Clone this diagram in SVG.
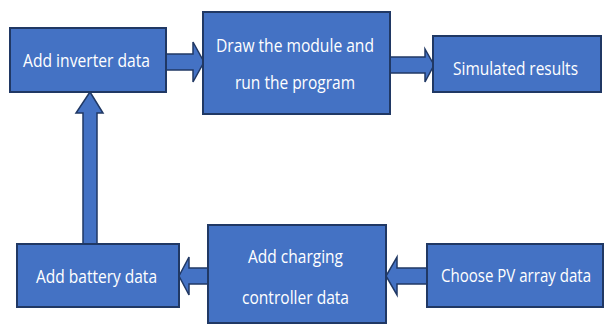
<svg xmlns="http://www.w3.org/2000/svg" width="605" height="325" viewBox="0 0 605 325">
<style>
.box{fill:#4472C4;stroke:#203864;stroke-width:2}
.arr{fill:#4472C4;stroke:#203864;stroke-width:1.5;stroke-linejoin:miter}
.t{fill:#ffffff;font-family:"Open Sans","Liberation Sans",Arial,sans-serif;font-size:18px;text-anchor:middle}
</style>
<rect width="605" height="325" fill="#ffffff"/>
<g id="connectors">
<polygon class="arr" points="166,54 193,54 193,42 204,62 193,82 193,70 166,70"/>
<polygon class="arr" points="390,57 425,57 425,49 434,65 425,82 425,73 390,73"/>
<polygon class="arr" points="83,244 83,113 76,113 90,92 103,113 97,113 97,244"/>
<polygon class="arr" points="208,268 189,268 189,257 179,276 189,295 189,284 208,284"/>
<polygon class="arr" points="427,268 397,268 397,257 386,276 397,295 397,284 427,284"/>
</g>
<g id="inverter">
<rect class="box" x="10" y="28" width="156" height="64"/>
<text class="t" x="86.5" y="67" textLength="127" lengthAdjust="spacingAndGlyphs">Add inverter data</text>
</g>
<g id="module">
<rect class="box" x="203" y="12" width="187" height="102"/>
<text class="t" x="295" y="52" textLength="158" lengthAdjust="spacingAndGlyphs">Draw the module and</text>
<text class="t" x="295" y="89" textLength="120" lengthAdjust="spacingAndGlyphs">run the program</text>
</g>
<g id="results">
<rect class="box" x="433" y="36" width="168" height="56"/>
<text class="t" x="515.5" y="75" textLength="125" lengthAdjust="spacingAndGlyphs">Simulated results</text>
</g>
<g id="battery">
<rect class="box" x="17" y="244" width="162" height="63"/>
<text class="t" x="96.5" y="283" textLength="121" lengthAdjust="spacingAndGlyphs">Add battery data</text>
</g>
<g id="controller">
<rect class="box" x="208" y="225" width="178" height="98"/>
<text class="t" x="295.5" y="263" textLength="95" lengthAdjust="spacingAndGlyphs">Add charging</text>
<text class="t" x="295.5" y="304" textLength="107" lengthAdjust="spacingAndGlyphs">controller data</text>
</g>
<g id="pv">
<rect class="box" x="427" y="244" width="176" height="63"/>
<text class="t" x="516" y="282" textLength="150" lengthAdjust="spacingAndGlyphs">Choose PV array data</text>
</g>
</svg>
